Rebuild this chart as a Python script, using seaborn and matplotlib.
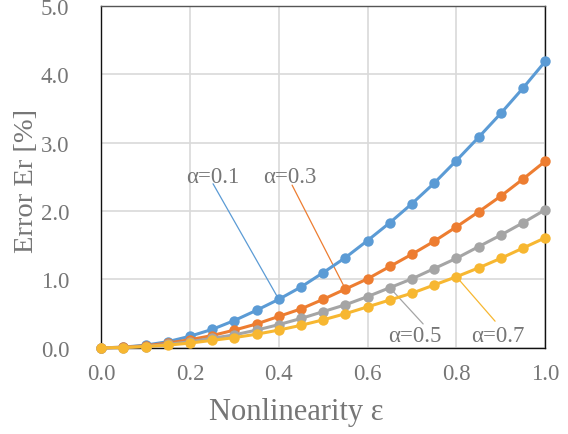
import numpy as np
import pandas as pd
import matplotlib
matplotlib.use("Agg")
import matplotlib.pyplot as plt
import seaborn as sns

eps = [0.0, 0.05, 0.1, 0.15, 0.2, 0.25, 0.3, 0.35, 0.4, 0.45, 0.5,
       0.55, 0.6, 0.65, 0.7, 0.75, 0.8, 0.85, 0.9, 0.95, 1.0]
err_a01 = [0.0, 0.01, 0.04, 0.09, 0.17, 0.27, 0.40, 0.55, 0.71, 0.89, 1.10,
           1.32, 1.57, 1.83, 2.11, 2.41, 2.74, 3.08, 3.43, 3.80, 4.19]
err_a03 = [0.0, 0.01, 0.03, 0.07, 0.12, 0.18, 0.26, 0.35, 0.46, 0.57, 0.71,
           0.86, 1.01, 1.19, 1.37, 1.56, 1.77, 1.99, 2.22, 2.47, 2.73]
err_a05 = [0.0, 0.005, 0.02, 0.05, 0.09, 0.14, 0.19, 0.26, 0.34, 0.43, 0.53,
           0.63, 0.75, 0.88, 1.01, 1.16, 1.31, 1.48, 1.65, 1.83, 2.02]
err_a07 = [0.0, 0.005, 0.02, 0.04, 0.07, 0.11, 0.15, 0.20, 0.26, 0.33, 0.41,
           0.50, 0.60, 0.70, 0.80, 0.92, 1.04, 1.17, 1.31, 1.46, 1.61]
series_names = ["α=0.1", "α=0.3", "α=0.5", "α=0.7"]
colors = ["#5b9bd5", "#ed7d31", "#a5a5a5", "#f7b731"]
x_ticks = [0.0, 0.2, 0.4, 0.6, 0.8, 1.0]
y_ticks = [0.0, 1.0, 2.0, 3.0, 4.0, 5.0]

df = pd.concat([
    pd.DataFrame({"eps": eps, "err": v, "series": n})
    for n, v in zip(series_names, [err_a01, err_a03, err_a05, err_a07])
], ignore_index=True)

sns.set_style("white")
plt.rcParams['font.family'] = ['Liberation Serif', 'DejaVu Serif']
txt = "#767676"

fig = plt.figure(figsize=(5.68, 4.35), dpi=100)
ax = fig.add_axes([0.178, 0.198, 0.782, 0.786])

sns.lineplot(data=df, x="eps", y="err", hue="series", palette=colors,
             marker="o", markersize=7.5, markeredgewidth=0, linewidth=2.2,
             legend=False, ax=ax, clip_on=False, zorder=3)

ax.set_xlim(0, 1.0)
ax.set_ylim(0, 5.0)
ax.set_xticks(x_ticks)
ax.set_yticks(y_ticks)
ax.set_xticklabels([f"{t:.1f}" for t in x_ticks])
ax.set_yticklabels([f"{t:.1f}" for t in y_ticks])
ax.grid(True, color="#d9d9d9", linewidth=1.2)
ax.set_axisbelow(True)
for s in ax.spines.values():
    s.set_color("#111111")
    s.set_linewidth(1.0)
ax.spines["top"].set_color("#555555")
ax.tick_params(axis="both", labelsize=16.5, colors=txt, length=0)
ax.tick_params(axis="x", pad=11)
ax.tick_params(axis="y", pad=23)
ax.set_xlabel("Nonlinearity ε", fontsize=22, color=txt)
ax.xaxis.set_label_coords(0.44, -0.143)
ax.set_ylabel("Error Er [%]", fontsize=20.5, color=txt)
ax.yaxis.set_label_coords(-0.14, 0.49)

# annotations: label, point x, point y, text x, text y, color, leader start x, y
annots = [
    ("α=0.1", 0.40, err_a01[8], 0.252, 2.50, colors[0], 0.252, 2.40),
    ("α=0.3", 0.55, err_a03[11], 0.424, 2.50, colors[1], 0.43, 2.38),
    ("α=0.5", 0.65, err_a05[13], 0.707, 0.175, colors[2], 0.725, 0.35),
    ("α=0.7", 0.80, err_a07[16], 0.894, 0.175, colors[3], 0.887, 0.39),
]
for label, px, py, tx, ty, c, lx, ly in annots:
    ax.text(tx, ty, label, fontsize=16.5, color=txt, ha="center", va="center", zorder=5)
    ax.plot([lx, px], [ly, py], color=c, linewidth=0.9, zorder=2)

fig.savefig("out.png", dpi=100)
